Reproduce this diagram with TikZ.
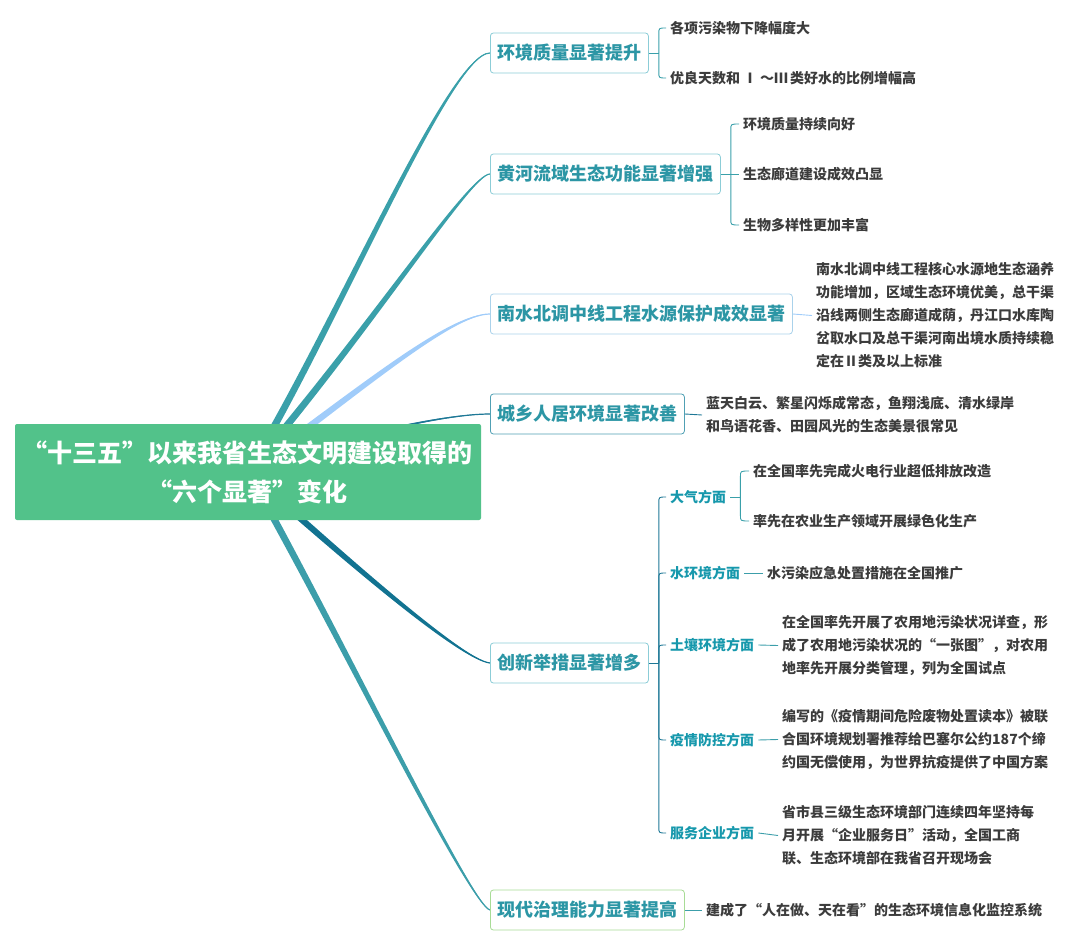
\documentclass[tikz,border=0pt]{standalone}
\usepackage{fontspec}
\setmainfont{Noto Sans CJK SC}
\usetikzlibrary{calc,backgrounds}
\definecolor{rootgreen}{RGB}{82,194,138}
\definecolor{branchtext}{RGB}{44,150,165}
\definecolor{subteal}{RGB}{22,152,172}
\definecolor{leafgray}{RGB}{60,60,60}
\definecolor{bordteal}{RGB}{140,205,215}
\definecolor{bordblue}{RGB}{170,210,235}
\definecolor{bordgreen}{RGB}{168,220,150}
\definecolor{borddark}{RGB}{80,160,180}
\definecolor{cteal}{RGB}{58,160,170}
\definecolor{clight}{RGB}{160,204,250}
\definecolor{cdark}{RGB}{30,120,150}
\definecolor{cdeep}{RGB}{18,115,145}
\definecolor{cmid}{RGB}{60,158,170}
\newcommand\fw[1]{{\addfontfeature{RawFeature=+fwid}#1}}
\newcommand\lqf{\fw{“}}
\newcommand\rqf{\fw{”}}
\newcommand\mmtaper[6]{%
  \fill[#1] ($(#2)+(#6)$) .. controls ($(#3)+0.8*(#6)$) and ($(#4)+0.5*(#6)$) .. (#5) .. controls ($(#4)-0.5*(#6)$) and ($(#3)-0.8*(#6)$) .. ($(#2)-(#6)$) -- cycle;
  \draw[#1, line width=1.2pt] (#2) .. controls (#3) and (#4) .. (#5);}
\newcommand\mmup[3]{\draw[brk=#1] (#2) -- ($(#2|-#3.west)+(0,6)$) .. controls (#2|-#3.west) .. (#3.west);}
\newcommand\mmdn[3]{\draw[brk=#1] (#2) -- ($(#2|-#3.west)+(0,-6)$) .. controls (#2|-#3.west) .. (#3.west);}
\begin{document}
\begin{tikzpicture}[x=1pt,y=-1pt,
  branch/.style={draw=#1, fill=white, rounded corners=3pt, line width=0.8pt, inner xsep=7pt, minimum height=40pt, anchor=west, text=branchtext, font=\fontsize{18}{22}\selectfont\bfseries},
  leaf/.style={anchor=west, inner xsep=4pt, inner ysep=2pt, text=leafgray, align=left, font=\fontsize{14}{23}\selectfont\bfseries},
  sub/.style={anchor=west, inner xsep=4pt, inner ysep=2pt, text=subteal, font=\fontsize{14}{18}\selectfont\bfseries},
  brk/.style={draw=#1, line width=0.9pt},
]
\path[use as bounding box] (0,0) rectangle (1080,944);

\node[fill=rootgreen, rounded corners=2pt, minimum width=466pt, minimum height=96pt, align=center, text=white, font=\fontsize{25}{39}\selectfont\bfseries] (root) at (248,472) {\lqf 十三五\rqf 以来我省生态文明建设取得的\\\lqf 六个显著\rqf 变化};

\node[branch=bordteal] (b1) at (490,53) {环境质量显著提升};
\node[branch=bordteal] (b2) at (490,174) {黄河流域生态功能显著增强};
\node[branch=bordblue] (b3) at (490,314) {南水北调中线工程水源保护成效显著};
\node[branch=borddark] (b4) at (490,414) {城乡人居环境显著改善};
\node[branch=bordteal] (b5) at (490,663) {创新举措显著增多};
\node[branch=bordgreen] (b6) at (490,910) {现代治理能力显著提高};

\node[leaf] (l11) at (666,28) {各项污染物下降幅度大};
\node[leaf] (l12) at (666,78) {优良天数和\hspace{3pt}Ⅰ\hspace{3pt}～Ⅲ\hspace{2pt}类好水的比例增幅高};
\node[leaf] (l21) at (739,124) {环境质量持续向好};
\node[leaf] (l22) at (739,174) {生态廊道建设成效凸显};
\node[leaf] (l23) at (739,225) {生物多样性更加丰富};
\node[leaf] (l3) at (812,315.5) {南水北调中线工程核心水源地生态涵养\\功能增加，区域生态环境优美，总干渠\\沿线两侧生态廊道成荫，丹江口水库陶\\岔取水口及总干渠河南出境水质持续稳\\定在Ⅱ类及以上标准};
\node[leaf] (l4) at (702,415) {蓝天白云、繁星闪烁成常态，鱼翔浅底、清水绿岸\\和鸟语花香、田园风光的生态美景很常见};
\node[sub] (s1) at (666,497) {大气方面};
\node[sub] (s2) at (666,573) {水环境方面};
\node[sub] (s3) at (666,645) {土壤环境方面};
\node[sub] (s4) at (666,740) {疫情防控方面};
\node[sub] (s5) at (666,833) {服务企业方面};
\node[leaf] (l51) at (749,471) {在全国率先完成火电行业超低排放改造};
\node[leaf] (l52) at (749,521) {率先在农业生产领域开展绿色化生产};
\node[leaf] (l6) at (763,573) {水污染应急处置措施在全国推广};
\node[leaf] (l7) at (778,645.5) {在全国率先开展了农用地污染状况详查，形\\成了农用地污染状况的\lqf 一张图\rqf ，对农用\\地率先开展分类管理，列为全国试点};
\node[leaf] (l8) at (778,739.5) {编写的《疫情期间危险废物处置读本》被联\\合国环境规划署推荐给巴塞尔公约187个缔\\约国无偿使用，为世界抗疫提供了中国方案};
\node[leaf] (l9) at (778,835.5) {省市县三级生态环境部门连续四年坚持每\\月开展\lqf 企业服务日\rqf 活动，全国工商\\联、生态环境部在我省召开现场会};
\node[leaf] (l10) at (702,910) {建成了\lqf 人在做、天在看\rqf 的生态环境信息化监控系统};

\begin{scope}[on background layer]
\mmtaper{cteal}{root.center}{338,322}{450,53}{b1.west}{3.2,1.9}
\mmtaper{cteal}{root.center}{370,330}{470,174}{b2.west}{2.9,2.4}
\mmtaper{clight}{root.center}{360,390}{450,314}{b3.west}{2.2,3}
\mmtaper{cdark}{root.center}{330,440}{440,414}{b4.west}{0.7,1.8}
\mmtaper{cdeep}{root.center}{330,545}{460,660}{b5.west}{2.4,-2.7}
\mmtaper{cmid}{root.center}{333,622}{470,905}{b6.west}{3.2,-1.8}
\end{scope}

% bracket: branch 1
\coordinate (j1) at ($(b1.east)+(10,0)$);
\draw[brk=cteal] (b1.east) -- (j1);
\mmup{cteal}{j1}{l11}
\mmdn{cteal}{j1}{l12}
% branch 2
\coordinate (j2) at ($(b2.east)+(10,0)$);
\draw[brk=cteal] (b2.east) -- (j2);
\mmup{cteal}{j2}{l21}
\draw[brk=cteal] (j2) -- (l22.west);
\mmdn{cteal}{j2}{l23}
% branch 3, 4
\draw[brk=clight] (b3.east) -- (l3.west);
\draw[brk=cdark] (b4.east) -- (l4.west);
% branch 5
\coordinate (j5) at ($(b5.east)+(10,0)$);
\draw[brk=cdark] (b5.east) -- (j5);
\mmup{cdark}{j5}{s1}
\mmup{cdark}{j5}{s2}
\mmup{cdark}{j5}{s3}
\mmdn{cdark}{j5}{s4}
\mmdn{cdark}{j5}{s5}
\coordinate (j51) at ($(s1.east)+(10,0)$);
\draw[brk=cteal] (s1.east) -- (j51);
\mmup{cteal}{j51}{l51}
\mmdn{cteal}{j51}{l52}
\draw[brk=cmid] (s2.east) -- (l6.west);
\draw[brk=cmid] (s3.east) -- (l7.west);
\draw[brk=cmid] (s4.east) -- (l8.west);
\draw[brk=cmid] (s5.east) -- (l9.west);
% branch 6
\draw[brk=cmid] (b6.east) -- (l10.west);
\end{tikzpicture}
\end{document}
